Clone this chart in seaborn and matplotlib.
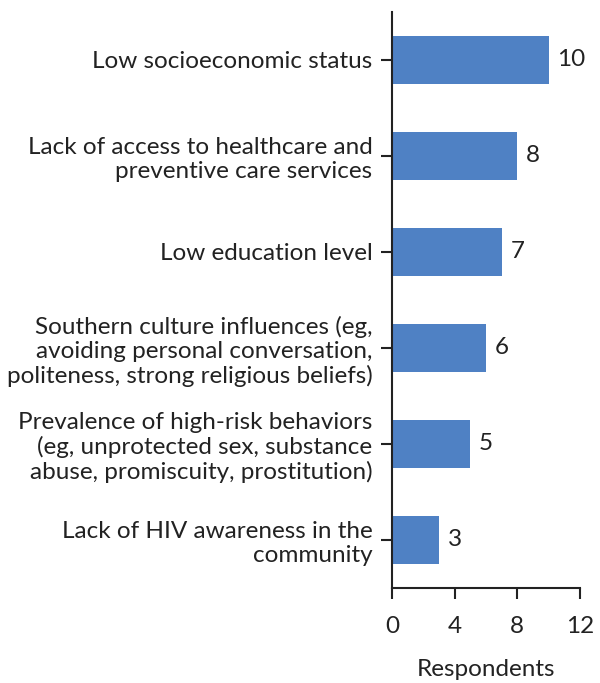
import matplotlib
matplotlib.use("Agg")
import matplotlib.pyplot as plt
import seaborn as sns
import pandas as pd

categories = [
    "Low socioeconomic status",
    "Lack of access to healthcare and\npreventive care services",
    "Low education level",
    "Southern culture influences (eg,\navoiding personal conversation,\npoliteness, strong religious beliefs)",
    "Prevalence of high-risk behaviors\n(eg, unprotected sex, substance\nabuse, promiscuity, prostitution)",
    "Lack of HIV awareness in the\ncommunity",
]
values = [10, 8, 7, 6, 5, 3]
xticks = [0, 4, 8, 12]

sns.set_theme(style="white")
plt.rcParams['font.family'] = ['Lato', 'DejaVu Sans']
plt.rcParams['text.color'] = '#222222'

FS = 17.5
df = pd.DataFrame({"cat": categories, "val": values})

fig = plt.figure(figsize=(6.0, 6.83), dpi=100)
ax = fig.add_axes([392/600, 1 - 588/683, 188/600, 576/683])
sns.barplot(data=df, y="cat", x="val", orient="h", color="#4F81C4",
            saturation=1, width=0.5, linewidth=0, ax=ax)
ax.set_xlim(0, 12)
ax.set_ylim(5.5, -0.5)
ax.set_xticks(xticks)
ax.set_xticklabels([str(t) for t in xticks], fontsize=FS, color='#222222')
ax.set_yticks(range(len(categories)))
ax.set_yticklabels(categories, fontsize=FS, color='#222222')
ax.tick_params(axis='both', direction='out', length=8, width=1.5, color='#222222',
               bottom=True, left=True)
ax.tick_params(axis='x', pad=12)
ax.tick_params(axis='y', pad=6)
for t in ax.get_yticklabels():
    t.set_linespacing(1.15)
ax.set_ylabel("")
ax.set_xlabel("Respondents", fontsize=FS, color='#222222', labelpad=16)
for s in ["top", "right"]:
    ax.spines[s].set_visible(False)
for s in ["left", "bottom"]:
    ax.spines[s].set_color('#222222')
    ax.spines[s].set_linewidth(1.5)
for i, v in enumerate(values):
    ax.text(v + 0.55, i, str(v), va='center', ha='left', fontsize=FS, color='#222222')

fig.savefig("out.png", dpi=100)
